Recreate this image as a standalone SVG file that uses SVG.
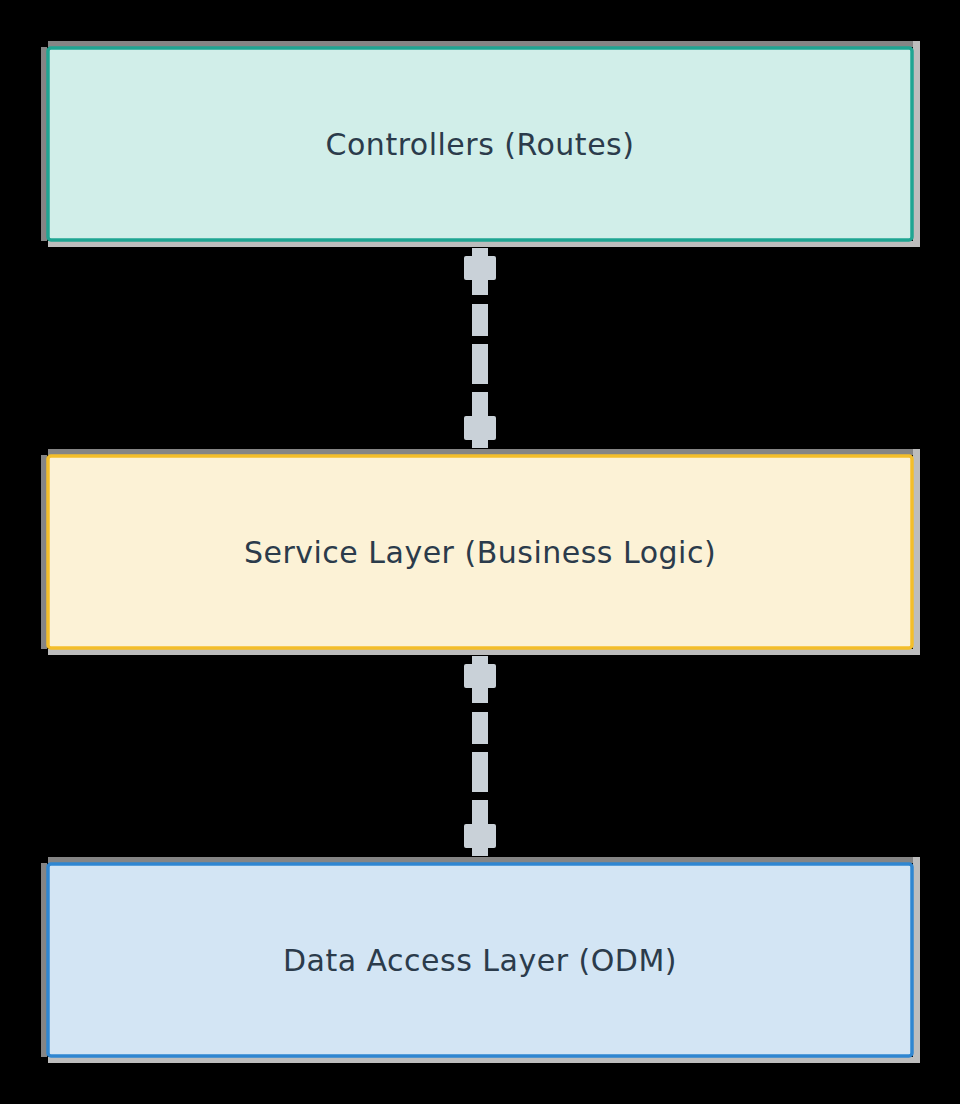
<svg xmlns="http://www.w3.org/2000/svg" width="960" height="1104" viewBox="0 0 960 1104">
<style>
.bg{fill:#000}
.shd{fill:#858585}
.shl{fill:#bdbdbd}
.lbl{font-family:"DejaVu Sans","Liberation Sans",sans-serif;font-size:30px;letter-spacing:0.5px;fill:#2b3b4b;text-anchor:middle}
.conn{stroke:#c9d1d8;stroke-width:16;fill:none;stroke-dasharray:47 9 32 8 40 8 56}
.mk{fill:#c9d1d8}
</style>
<rect class="bg" x="0" y="0" width="960" height="1104"/>
<g id="controllers">
<path class="shd" d="M41 47 H47 V241 H41 Z M48 41 H913 V47 H48 Z"/>
<path class="shl" d="M913 41 H920 V247 H913 Z M48 241 H913 V247 H48 Z"/>
<rect x="48" y="48" width="864" height="192" rx="3" fill="#d1eee9" stroke="#1fa592" stroke-width="3.5"/>
<text class="lbl" x="480" y="155">Controllers (Routes)</text>
</g>
<g id="service">
<path class="shd" d="M41 455 H47 V649 H41 Z M48 449 H913 V455 H48 Z"/>
<path class="shl" d="M913 449 H920 V655 H913 Z M48 649 H913 V655 H48 Z"/>
<rect x="48" y="456" width="864" height="192" rx="3" fill="#fcf2d6" stroke="#f3be2b" stroke-width="3.5"/>
<text class="lbl" x="480" y="563">Service Layer (Business Logic)</text>
</g>
<g id="data">
<path class="shd" d="M41 863 H47 V1057 H41 Z M48 857 H913 V863 H48 Z"/>
<path class="shl" d="M913 857 H920 V1063 H913 Z M48 1057 H913 V1063 H48 Z"/>
<rect x="48" y="864" width="864" height="192" rx="3" fill="#d3e5f4" stroke="#2f86d1" stroke-width="3.5"/>
<text class="lbl" x="480" y="971">Data Access Layer (ODM)</text>
</g>
<g id="connectors">
<line class="conn" x1="480" y1="248" x2="480" y2="448"/>
<rect class="mk" x="464" y="256" width="32" height="24" rx="2"/>
<rect class="mk" x="464" y="416" width="32" height="24" rx="2"/>
<line class="conn" x1="480" y1="656" x2="480" y2="856"/>
<rect class="mk" x="464" y="664" width="32" height="24" rx="2"/>
<rect class="mk" x="464" y="824" width="32" height="24" rx="2"/>
</g>
</svg>
